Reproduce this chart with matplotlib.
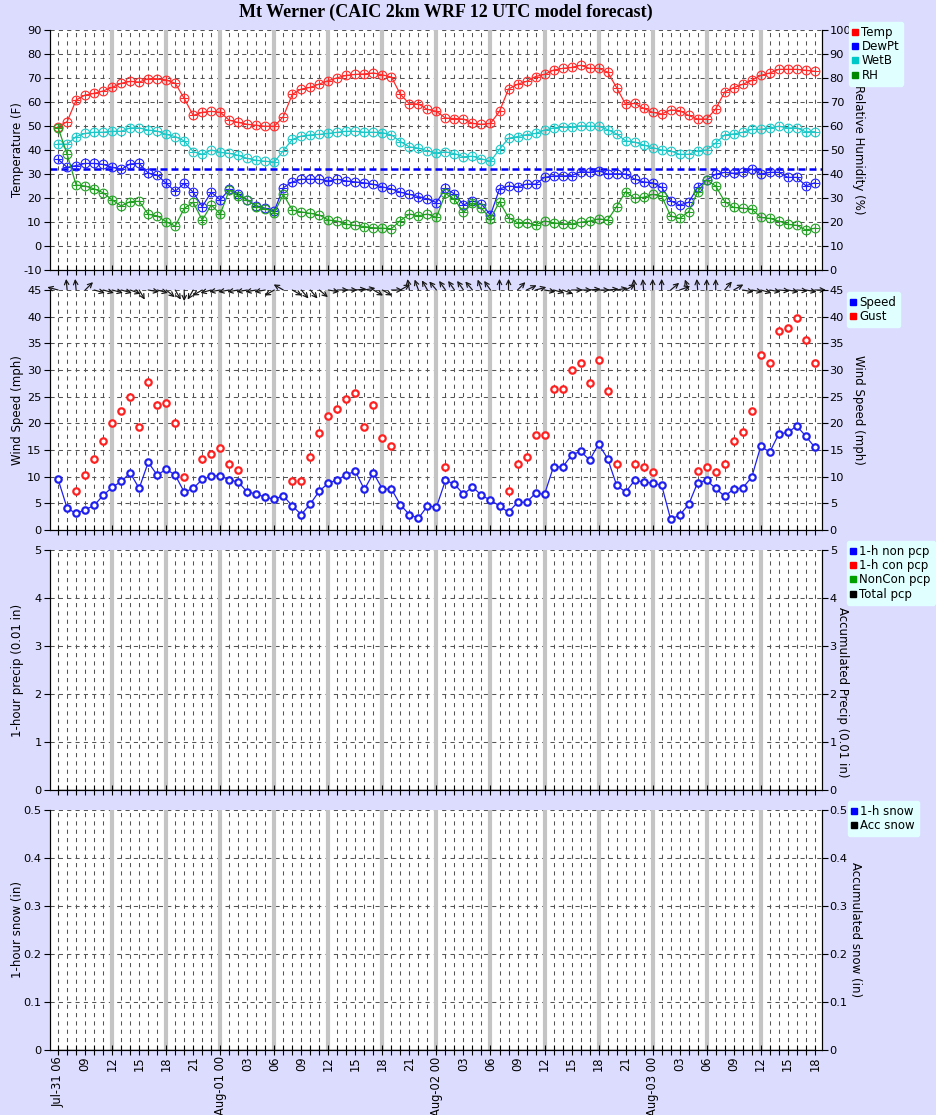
import numpy as np
import pandas as pd
import matplotlib
matplotlib.use('Agg')
import matplotlib.pyplot as plt
from matplotlib.lines import Line2D

# forecast hours, 06 UTC Jul-31 .. 18 UTC Aug-03
times = pd.date_range('2025-07-31 06:00', periods=85, freq='h')
hours = np.arange(len(times))

temp = [49.7, 51.8, 60.8, 62.9, 63.6, 64.6, 66.1, 67.8, 68.6, 68.3,
        69.7, 69.7, 69.2, 67.8, 61.5, 54.4, 55.7, 56.1, 55.7, 52.4,
        51.5, 50.7, 50.3, 49.9, 49.9, 53.9, 63.2, 65.4, 66.1, 67.5,
        68.9, 70.1, 71.1, 71.5, 71.7, 72.1, 71.3, 70.4, 63.2, 59.2,
        59.2, 56.9, 56.1, 53.3, 53.1, 52.9, 51.1, 50.7, 51.1, 56.1,
        65.4, 67.4, 68.6, 70.6, 71.5, 73.3, 74.0, 74.4, 75.3, 74.0,
        74.0, 72.5, 66.0, 59.0, 59.4, 57.4, 55.7, 55.0, 56.7, 56.4,
        54.4, 52.9, 52.9, 57.1, 64.2, 66.0, 67.4, 69.0, 71.1, 72.1,
        73.6, 73.6, 73.6, 73.2, 72.8]
dewpt = [36.1, 32.8, 33.5, 34.4, 34.4, 34.0, 32.8, 31.9, 34.2, 34.4,
         30.4, 29.6, 26.1, 22.8, 26.1, 22.4, 16.4, 22.4, 19.2, 23.6,
         21.7, 19.2, 16.8, 15.7, 14.6, 24.3, 26.7, 27.8, 27.8, 27.8,
         27.1, 27.8, 27.1, 26.7, 26.3, 25.7, 24.6, 23.8, 22.4, 21.5,
         20.6, 19.6, 18.1, 24.0, 21.7, 17.1, 18.8, 17.5, 12.9, 23.8,
         25.0, 24.6, 25.8, 25.8, 28.6, 29.2, 29.2, 29.3, 31.0, 30.7,
         31.4, 30.0, 30.1, 30.0, 27.9, 26.7, 26.3, 24.4, 18.8, 17.1,
         18.2, 24.4, 27.5, 29.9, 30.7, 30.3, 30.7, 32.1, 30.0, 30.7,
         30.7, 28.6, 28.6, 25.1, 26.3]
wetb = [42.5, 42.4, 45.6, 46.9, 47.4, 47.4, 47.8, 47.8, 49.2, 49.2,
        48.3, 47.9, 46.5, 45.6, 43.8, 39.3, 38.2, 40.0, 39.0, 38.6,
        37.8, 36.5, 35.7, 35.3, 35.0, 39.7, 44.4, 45.8, 46.3, 46.5,
        46.9, 47.4, 47.8, 47.8, 47.4, 47.4, 47.2, 46.3, 43.5, 41.3,
        40.8, 39.6, 38.8, 39.2, 38.5, 37.2, 37.4, 36.3, 35.3, 40.3,
        44.9, 45.6, 46.4, 46.9, 48.3, 49.2, 49.6, 49.6, 50.1, 49.9,
        49.9, 48.5, 46.7, 43.8, 43.3, 42.1, 41.0, 40.0, 39.6, 38.2,
        38.2, 39.7, 40.0, 42.9, 46.3, 46.7, 47.4, 48.6, 48.6, 49.2,
        49.9, 49.2, 49.2, 47.6, 47.6]
rh = [59.3, 48.2, 35.4, 35.0, 33.8, 32.2, 29.2, 26.7, 28.5, 28.6,
      23.2, 22.6, 20.1, 18.3, 25.7, 28.2, 20.8, 27.1, 23.3, 33.3,
      30.8, 29.2, 26.4, 25.6, 23.9, 31.5, 25.0, 24.2, 23.6, 22.9,
      20.8, 20.4, 19.0, 18.6, 18.1, 17.6, 17.4, 17.2, 20.6, 23.3,
      22.6, 23.3, 21.9, 31.9, 29.4, 24.0, 27.8, 25.7, 21.3, 28.5,
      21.8, 19.7, 19.7, 18.8, 20.4, 19.7, 19.2, 19.2, 19.9, 20.4,
      21.3, 20.8, 26.4, 32.6, 29.9, 30.3, 31.5, 30.8, 22.5, 21.5,
      24.3, 32.6, 37.5, 35.0, 28.5, 26.1, 25.7, 25.4, 21.9, 21.5,
      20.4, 19.0, 18.6, 16.7, 17.4]

speed = [9.5, 4.1, 3.1, 3.8, 4.6, 6.5, 8.0, 9.1, 10.7, 7.8,
         12.7, 10.3, 11.4, 10.3, 7.1, 7.8, 9.5, 10.1, 10.2, 9.4,
         9.0, 7.1, 6.8, 6.1, 5.8, 6.4, 4.5, 2.9, 4.9, 7.3,
         8.8, 9.4, 10.4, 11.0, 7.6, 10.7, 7.7, 7.7, 4.7, 2.9,
         2.2, 4.5, 4.3, 9.3, 8.6, 6.7, 8.1, 6.5, 5.6, 4.5,
         3.3, 5.2, 5.2, 6.9, 6.7, 11.9, 11.8, 14.0, 14.8, 13.1,
         16.1, 13.4, 8.4, 7.1, 9.3, 9.0, 8.8, 8.4, 2.0, 2.8,
         4.8, 8.9, 9.3, 7.8, 6.3, 7.7, 7.9, 9.9, 15.7, 14.6,
         18.0, 18.3, 19.5, 17.6, 15.5]
nan = np.nan
gust = [nan, nan, 7.4, 10.3, 13.3, 16.6, 20.0, 22.3, 24.9, 19.3,
        27.7, 23.4, 23.9, 20.1, 9.9, nan, 13.3, 14.2, 15.3, 12.3,
        11.2, nan, nan, nan, nan, nan, 9.1, 9.1, 13.6, 18.1,
        21.3, 22.6, 24.5, 25.7, 19.3, 23.4, 17.2, 15.7, nan, nan,
        nan, nan, nan, 11.8, nan, nan, nan, nan, nan, nan,
        7.4, 12.3, 13.6, 17.8, 17.9, 26.4, 26.4, 30.0, 31.4, 27.5,
        31.8, 26.0, 12.3, nan, 12.3, 11.8, 10.8, nan, nan, nan,
        nan, 11.0, 11.8, 10.8, 12.3, 16.6, 18.3, 22.3, 32.9, 31.4,
        37.3, 37.8, 39.7, 35.6, 31.4]
# wind direction (deg, from)
wdir = [105, 175, 175, 225, 285, 285, 285, 285, 290, 330,
        280, 285, 310, 330, 360, 30, 60, 75, 80, 80,
        80, 80, 80, 80, 60, 120, 300, 320, 320, 310,
        280, 270, 270, 265, 260, 300, 300, 270, 240, 170,
        160, 150, 140, 145, 145, 145, 140, 160, 145, 180,
        180, 225, 245, 255, 280, 285, 290, 270, 270, 265,
        270, 265, 260, 240, 175, 175, 180, 180, 230, 250,
        160, 175, 180, 180, 220, 240, 280, 280, 285, 280,
        275, 280, 275, 280, 270]

# precip / snow: all zero in this run
pcp_non = np.zeros(85)
pcp_con = np.zeros(85)
pcp_acc = np.zeros(85)
snow_1h = np.zeros(85)
snow_acc = np.zeros(85)

W, H = 937, 1115
BG = '#dcdcff'
plt.rcParams['font.family'] = ['DejaVu Sans']

fig = plt.figure(figsize=(W / 100, H / 100), dpi=100, facecolor=BG)

def panel(top, lo, hi, step, llab, rlab, rlo, rhi, rstep, rx, ry=120):
    ax = fig.add_axes([50 / W, 1 - (top + 240) / H, 772 / W, 240 / H])
    ax.set_xlim(-0.9, 84.8)
    ax.set_ylim(lo, hi)
    ticks = np.arange(lo, hi + step / 2, step)
    ax.set_yticks(ticks)
    ax.set_yticklabels([('%g' % round(t, 2)) for t in ticks])
    for h in hours:
        ax.axvline(h, color='#555555', lw=0.75, ls=(0, (4, 4)), zorder=1)
    for t in ticks:
        ax.axhline(t, color='#555555', lw=0.75, ls=(0, (4, 4)), zorder=1)
    for h in range(6, 79, 6):
        ax.axvline(h, color='#c4c4c4', lw=3, zorder=1.5)
    ax.set_xticks(hours)
    ax.tick_params(axis='x', direction='inout', length=7, width=0.8, labelbottom=False)
    ax.tick_params(axis='y', direction='out', length=4, labelsize=8.2, pad=2)
    axr = ax.twinx()
    axr.set_ylim(rlo, rhi)
    rt = np.arange(rlo, rhi + rstep / 2, rstep)
    axr.set_yticks(rt)
    axr.set_yticklabels([('%g' % round(t, 2)) for t in rt])
    axr.tick_params(axis='y', direction='out', length=4, labelsize=8.2, pad=1.5)
    fig.text(18 / W, 1 - (top + 120) / H, llab, rotation=90, ha='center', va='center',
             fontsize=8.5)
    fig.text(rx / W, 1 - (top + ry) / H, rlab, rotation=270, ha='center', va='center',
             fontsize=8.5)
    for a in (ax, axr):
        a.spines['top'].set_visible(False)
        a.set_facecolor('white')
    axr.patch.set_visible(False)
    return ax, axr

def legend(items, x, y):
    hs = [Line2D([], [], ls='none', marker='s', markersize=4.5, color=c, label=l)
          for l, c in items]
    fig.legend(handles=hs, loc='upper left', bbox_to_anchor=(x / W, 1 - y / H),
               fontsize=8.5, facecolor='#e0ffff', edgecolor='#e0ffff', framealpha=1,
               handlelength=0.4, handletextpad=0.3, labelspacing=0.1,
               borderpad=0.35, borderaxespad=0)

fig.text(446 / W, 1 - 12 / H, 'Mt Werner (CAIC 2km WRF 12 UTC model forecast)',
         ha='center', va='center', fontsize=13, fontweight='bold', family='Liberation Serif')

# panel 1: temperatures and RH
ax1, ax1r = panel(30, -10, 90, 10, 'Temperature (F)', 'Relative Humidity (%)', 0, 100, 10, 858)
ax1.axhline(32, color='#0000ff', lw=1.8, ls=(0, (2.8, 1.6)), zorder=2.5)
for a, v, c in [(ax1, temp, '#ff2a2a'), (ax1, wetb, '#1ec8c8'),
                (ax1, dewpt, '#2020ff'), (ax1r, rh, '#22a022')]:
    a.plot(hours, v, color=c, lw=0.9, marker='o', markersize=6.3, mfc='none', mew=0.8, zorder=3)
    a.plot(hours, v, color=c, ls='none', marker='+', markersize=6.3, mew=0.8, zorder=3)
legend([('Temp', '#ff0000'), ('DewPt', '#0000ff'), ('WetB', '#00c8c8'), ('RH', '#008800')], 849, 22)

# panel 2: wind
ax2, ax2r = panel(290, 0, 45, 5, 'Wind Speed (mph)', 'Wind Speed (mph)', 0, 45, 5, 858)
ax2.plot(hours, speed, color='#2020ee', lw=0.9, marker='o', markersize=4.6, mfc='white',
         mew=1.6, zorder=3)
ax2.plot(hours, gust, color='#ff2020', ls='none', marker='o', markersize=4.6, mfc='white',
         mew=1.6, zorder=3)
L = 8.0
for h, d in zip(hours, wdir):
    th = np.deg2rad(270 - d)
    ax2.annotate('', xy=(h, 45), xytext=(L * np.cos(th), L * np.sin(th)),
                 textcoords='offset points', annotation_clip=False,
                 arrowprops=dict(arrowstyle='<-', lw=0.85, color='#151515',
                                 shrinkA=0, shrinkB=0, mutation_scale=8))
legend([('Speed', '#0000ff'), ('Gust', '#ff0000')], 847, 292)

# panel 3: precip
ax3, ax3r = panel(550, 0, 5, 1, '1-hour precip (0.01 in)', 'Accumulated Precip (0.01 in)',
                  0, 5, 1, 843, ry=142)
ax3.bar(hours, pcp_non, color='#0000ff', width=0.8, zorder=3)
ax3.bar(hours, pcp_con, bottom=pcp_non, color='#ff0000', width=0.8, zorder=3)
ax3r.plot(hours, pcp_acc, color='black', lw=1, zorder=3)
legend([('1-h non pcp', '#0000ff'), ('1-h con pcp', '#ff0000'), ('NonCon pcp', '#00a000'),
        ('Total pcp', '#000000')], 847, 541)

# panel 4: snow
ax4, ax4r = panel(810, 0, 0.5, 0.1, '1-hour snow (in)', 'Accumulated snow (in)',
                  0, 0.5, 0.1, 856)
ax4.bar(hours, snow_1h, color='#0000ff', width=0.8, zorder=3)
ax4r.plot(hours, snow_acc, color='black', lw=1, zorder=3)
legend([('1-h snow', '#0000ff'), ('Acc snow', '#000000')], 848, 801)

labels = []
for i, t in enumerate(times):
    if i % 3:
        labels.append('')
    elif i == 0 or t.hour == 0:
        labels.append(t.strftime('%b-%d %H'))
    else:
        labels.append(t.strftime('%H'))
ax4.set_xticks(hours)
ax4.set_xticklabels(labels, rotation=90, fontsize=8.3)
ax4.tick_params(axis='x', labelbottom=True, pad=1)

fig.savefig('out.png', dpi=100, facecolor=BG)
